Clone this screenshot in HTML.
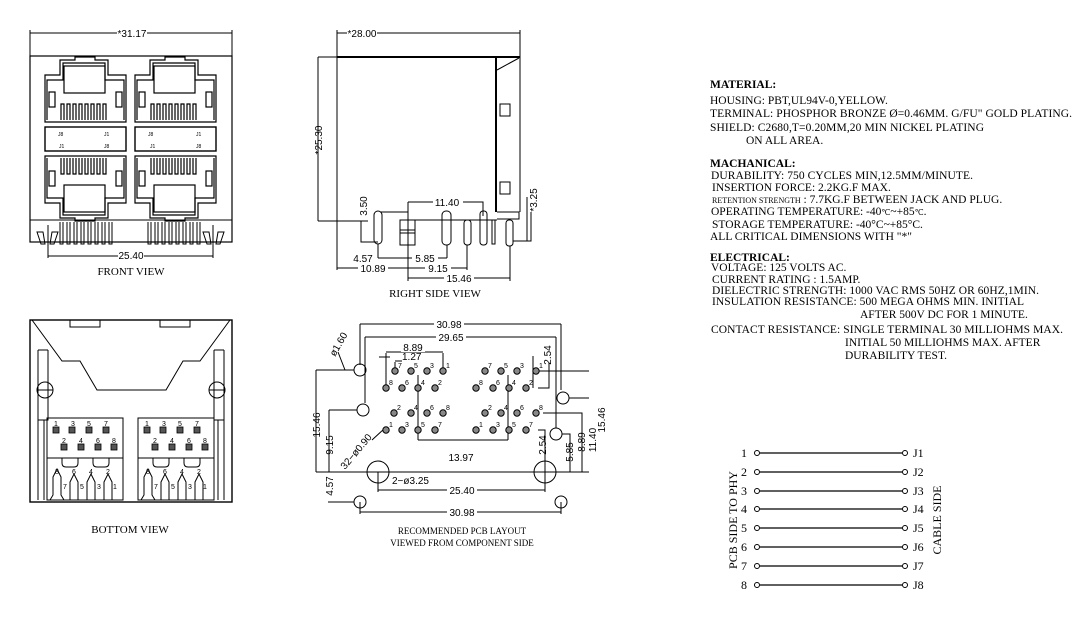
<!DOCTYPE html>
<html><head><meta charset="utf-8"><style>
html,body{margin:0;padding:0;background:#fff;width:1082px;height:626px;overflow:hidden}
svg{display:block}
text{font-family:"Liberation Sans",sans-serif;fill:#000}
.s{font-family:"Liberation Serif",serif}
</style></head><body>
<svg width="1082" height="626" viewBox="0 0 1082 626" xmlns="http://www.w3.org/2000/svg">
<defs>
<g id="jack" fill="none" stroke="#000" stroke-width="1.2">
  <path d="M45,122 V75 H60 V60 H75 V57 H95 V60 H108 V75 H126 V122 Z"/>
  <path d="M47,120 V80 H63 V63 H105 V80 H124 V120"/>
  <rect x="64" y="66" width="41" height="27"/>
  <rect x="49" y="92" width="6" height="15"/>
  <rect x="116" y="92" width="6" height="15"/>
  <path d="M61,120 V104 h3 v16 M67,120 V104 h3 v16 M73,120 V104 h3 v16 M79,120 V104 h3 v16 M85,120 V104 h3 v16 M91,120 V104 h3 v16 M97,120 V104 h3 v16 M103,120 V104 h3 v16"/>
</g>
<g id="pad"><circle r="3.2" fill="#888" stroke="#000" stroke-width="1"/></g>
</defs>

<!-- FRONT VIEW -->
<g fill="none" stroke="#000" stroke-width="1">
  <line x1="30" y1="33" x2="232" y2="33"/>
  <line x1="30" y1="30" x2="30" y2="56"/><line x1="232" y1="30" x2="232" y2="56"/>
  <rect x="30" y="56" width="202" height="186" stroke-width="1.2"/>
  <rect x="45" y="127" width="81" height="24" stroke-width="1.4"/>
  <rect x="135" y="127" width="81" height="24" stroke-width="1.4"/>
  <line x1="30" y1="220" x2="232" y2="220"/>
</g>
<use href="#jack"/>
<use href="#jack" transform="translate(90,0)"/>
<use href="#jack" transform="translate(0,276) scale(1,-1) translate(0,-2)"/>
<use href="#jack" transform="translate(90,276) scale(1,-1) translate(0,-2)"/>
<g fill="none" stroke="#000" stroke-width="1">
  <path d="M60,222 v22 h3 v-22 M67,222 v22 h3 v-22 M74,222 v22 h3 v-22 M81,222 v22 h3 v-22 M88,222 v22 h3 v-22 M95,222 v22 h3 v-22 M102,222 v22 h3 v-22 M109,222 v22 h3 v-22"/>
  <path d="M148,222 v22 h3 v-22 M155,222 v22 h3 v-22 M162,222 v22 h3 v-22 M169,222 v22 h3 v-22 M176,222 v22 h3 v-22 M183,222 v22 h3 v-22 M190,222 v22 h3 v-22 M197,222 v22 h3 v-22"/>
  <path d="M37,232 l4,12 h4 l-2,-12 z M52,232 l-2,12 h4 l4,-12 z M203,232 l4,12 h4 l-2,-12 z M218,232 l-2,12 h4 l4,-12 z"/>
  <line x1="48" y1="225" x2="48" y2="258"/><line x1="213" y1="225" x2="213" y2="258"/>
  <line x1="48" y1="256" x2="213" y2="256"/>
</g>
<g font-size="5" fill="#000"><text x="58" y="136">J8</text><text x="104" y="136">J1</text><text x="148" y="136">J8</text><text x="196" y="136">J1</text>
<text x="59" y="148">J1</text><text x="104" y="148">J8</text><text x="150" y="148">J1</text><text x="196" y="148">J8</text></g>
<rect x="118" y="250" width="26" height="10" fill="#fff"/>
<text x="131" y="259" font-size="10" text-anchor="middle">25.40</text>
<rect x="117" y="28" width="30" height="10" fill="#fff"/>
<text x="132" y="37" font-size="10" text-anchor="middle">*31.17</text>
<text class="s" x="131" y="275" font-size="11" text-anchor="middle">FRONT VIEW</text>

<!-- RIGHT SIDE VIEW -->
<g fill="none" stroke="#000" stroke-width="1">
  <line x1="337" y1="33" x2="520" y2="33"/>
  <line x1="337" y1="30" x2="337" y2="57"/><line x1="520" y1="30" x2="520" y2="57"/>
  <line x1="337" y1="57" x2="520" y2="57" stroke-width="2"/>
  <line x1="337" y1="57" x2="337" y2="221"/>
  <line x1="496" y1="57" x2="496" y2="212" stroke-width="2"/>
  <line x1="520" y1="57" x2="520" y2="212"/>
  <line x1="497" y1="70" x2="519" y2="58"/>
  <rect x="500" y="104" width="10" height="12"/><rect x="500" y="182" width="10" height="12"/>
  <path d="M337,221 H368 M380,212 H408 V220 H497 M497,212 H519 V219 H497"/>
  <line x1="318" y1="57" x2="340" y2="57"/><line x1="318" y1="221" x2="340" y2="221"/>
  <line x1="318" y1="57" x2="318" y2="221"/>
  <rect x="374" y="211" width="8" height="33" rx="4"/>
  <rect x="400" y="220" width="15" height="25"/><line x1="400" y1="230" x2="415" y2="230"/><line x1="400" y1="233" x2="415" y2="233"/>
  <rect x="442" y="211" width="9" height="34" rx="4"/>
  <rect x="464" y="220" width="7" height="25" rx="3"/>
  <rect x="480" y="211" width="7" height="34" rx="3"/>
  <rect x="492" y="220" width="3" height="24"/>
  <rect x="506" y="220" width="7" height="26" rx="3"/>
  <path d="M408,202 V281 M408,202 H483 V216 M361,221 V242 H378 M378,244 V258 M447,245 V258 M467,245 V270 M510,246 V281 M337,221 V270 M531,212 V241 H513"/>
  <line x1="378" y1="258" x2="447" y2="258"/>
  <line x1="337" y1="268" x2="467" y2="268"/>
  <line x1="408" y1="278" x2="510" y2="278"/>
  <line x1="527" y1="197" x2="527" y2="241"/>
</g>
<rect x="347" y="28" width="30" height="10" fill="#fff"/>
<text x="362" y="37" font-size="10" text-anchor="middle">*28.00</text>
<g font-size="10">
<text transform="translate(322,140) rotate(-90)" text-anchor="middle">*25.30</text>
<text transform="translate(367,206) rotate(-90)" text-anchor="middle">3.50</text>
<text transform="translate(537,200) rotate(-90)" text-anchor="middle">*3.25</text>
<rect x="433" y="197" width="30" height="10" fill="#fff"/><text x="447" y="206" text-anchor="middle">11.40</text>
<rect x="350" y="253" width="26" height="10" fill="#fff"/><text x="363" y="262" text-anchor="middle">4.57</text>
<rect x="412" y="253" width="26" height="10" fill="#fff"/><text x="425" y="262" text-anchor="middle">5.85</text>
<rect x="358" y="263" width="30" height="10" fill="#fff"/><text x="373" y="272" text-anchor="middle">10.89</text>
<rect x="425" y="263" width="26" height="10" fill="#fff"/><text x="438" y="272" text-anchor="middle">9.15</text>
<rect x="444" y="273" width="30" height="10" fill="#fff"/><text x="459" y="282" text-anchor="middle">15.46</text>
</g>
<text class="s" x="435" y="297" font-size="11" text-anchor="middle">RIGHT SIDE VIEW</text>

<!-- BOTTOM VIEW -->
<g fill="none" stroke="#000" stroke-width="1">
  <rect x="30" y="320" width="202" height="182" stroke-width="1.4"/>
  <rect x="70" y="320" width="30" height="7"/><rect x="160" y="320" width="30" height="7"/>
  <path d="M32,320 L62,361 H80 L97,390 H166 L183,361 H200 L230,320"/>
  <path d="M38,350 V500 M48,350 V420 H38 M38,350 H48 M224,350 V500 M214,350 V420 H224 M224,350 H214"/>
  <circle cx="45" cy="390" r="8"/><circle cx="217" cy="390" r="8"/>
  <path d="M37,390 h16 M209,390 h16"/>
  <path d="M44,420 V500 M218,420 V500"/>
  <rect x="47" y="418" width="76" height="82"/><rect x="138" y="418" width="76" height="82"/>
  <line x1="47" y1="458" x2="123" y2="458"/><line x1="138" y1="458" x2="214" y2="458"/>
  <path d="M62,458 v5 q0,4 4,4 h8 q4,0 4,-4 v-5 M93,458 v5 q0,4 4,4 h8 q4,0 4,-4 v-5"/>
  <path d="M153,458 v5 q0,4 4,4 h8 q4,0 4,-4 v-5 M184,458 v5 q0,4 4,4 h8 q4,0 4,-4 v-5"/>
  <path d="M50,500 l3,-5 v-18 l4,-8 l4,8 v18 l3,5 M70,500 v-18 l4,-8 l4,8 v18 M87,500 v-18 l4,-8 l4,8 v18 M104,500 v-18 l4,-8 l4,8 v18"/>
  <path d="M141,500 l3,-5 v-18 l4,-8 l4,8 v18 l3,5 M161,500 v-18 l4,-8 l4,8 v18 M178,500 v-18 l4,-8 l4,8 v18 M195,500 v-18 l4,-8 l4,8 v18"/>
</g>
<g fill="#555" stroke="#000" stroke-width="0.8">
  <rect x="53" y="427" width="6" height="6"/><rect x="69" y="427" width="6" height="6"/><rect x="86" y="427" width="6" height="6"/><rect x="103" y="427" width="6" height="6"/>
  <rect x="61" y="444" width="6" height="6"/><rect x="78" y="444" width="6" height="6"/><rect x="95" y="444" width="6" height="6"/><rect x="111" y="444" width="6" height="6"/>
  <rect x="144" y="427" width="6" height="6"/><rect x="160" y="427" width="6" height="6"/><rect x="177" y="427" width="6" height="6"/><rect x="194" y="427" width="6" height="6"/>
  <rect x="152" y="444" width="6" height="6"/><rect x="169" y="444" width="6" height="6"/><rect x="186" y="444" width="6" height="6"/><rect x="202" y="444" width="6" height="6"/>
</g>
<g font-size="7">
<text x="54" y="426">1</text><text x="71" y="426">3</text><text x="87" y="426">5</text><text x="104" y="426">7</text>
<text x="62" y="443">2</text><text x="79" y="443">4</text><text x="96" y="443">6</text><text x="112" y="443">8</text>
<text x="145" y="426">1</text><text x="162" y="426">3</text><text x="178" y="426">5</text><text x="195" y="426">7</text>
<text x="153" y="443">2</text><text x="170" y="443">4</text><text x="187" y="443">6</text><text x="203" y="443">8</text>
<text x="55" y="474">8</text><text x="72" y="474">6</text><text x="89" y="474">4</text><text x="106" y="474">2</text>
<text x="63" y="489">7</text><text x="80" y="489">5</text><text x="97" y="489">3</text><text x="113" y="489">1</text>
<text x="146" y="474">8</text><text x="163" y="474">6</text><text x="180" y="474">4</text><text x="197" y="474">2</text>
<text x="154" y="489">7</text><text x="171" y="489">5</text><text x="188" y="489">3</text><text x="203" y="489">1</text>
</g>
<text class="s" x="130" y="533" font-size="11" text-anchor="middle">BOTTOM VIEW</text>

<!-- PCB LAYOUT -->
<g fill="none" stroke="#000" stroke-width="1">
  <line x1="360" y1="324" x2="561" y2="324"/>
  <line x1="365" y1="337" x2="556" y2="337"/>
  <line x1="360" y1="324" x2="360" y2="365"/><line x1="561" y1="324" x2="561" y2="390"/>
  <line x1="365" y1="337" x2="365" y2="403"/><line x1="556" y1="337" x2="556" y2="428"/>
  <circle cx="360" cy="370" r="6"/><circle cx="363" cy="410" r="6"/>
  <circle cx="563" cy="398" r="6"/><circle cx="556" cy="434" r="6"/>
  <circle cx="378" cy="472" r="11"/><circle cx="545" cy="472" r="11"/>
  <circle cx="360" cy="502" r="6"/><circle cx="561" cy="502" r="6"/>
  <path d="M354,370 h-38 M357,410 h-28 M329,410 V472 M316,370 V472 M316,472 H589 M378,472 V492 M545,472 V492 M378,490 H545 M360,502 V514 M561,502 V514 M360,512 H561 M328,502 H354"/>
  <path d="M386,353 V388 M443,353 V370 M386,352 H443 M379,357 H390 M395,362 V371 M395,361 H402 M533,356 V388 M539,371 H589 M569,398 H589 M543,413 H582 V472 M562,434 H570 V472 M538,430 H545 V472 M549,363 V388 H538 M418,375 V440 M508,375 V440 M418,440 H508"/>
  <path d="M345,370 L338,352 M384,429 L372,440"/>
</g>
<g>
<use href="#pad" x="395" y="371"/><use href="#pad" x="411" y="371"/><use href="#pad" x="427" y="371"/><use href="#pad" x="443" y="371"/>
<use href="#pad" x="386" y="388"/><use href="#pad" x="402" y="388"/><use href="#pad" x="418" y="388"/><use href="#pad" x="435" y="388"/>
<use href="#pad" x="394" y="413"/><use href="#pad" x="411" y="413"/><use href="#pad" x="427" y="413"/><use href="#pad" x="443" y="413"/>
<use href="#pad" x="386" y="430"/><use href="#pad" x="402" y="430"/><use href="#pad" x="418" y="430"/><use href="#pad" x="435" y="430"/>
<use href="#pad" x="485" y="371"/><use href="#pad" x="501" y="371"/><use href="#pad" x="517" y="371"/><use href="#pad" x="536" y="371"/>
<use href="#pad" x="476" y="388"/><use href="#pad" x="493" y="388"/><use href="#pad" x="509" y="388"/><use href="#pad" x="526" y="388"/>
<use href="#pad" x="485" y="413"/><use href="#pad" x="501" y="413"/><use href="#pad" x="517" y="413"/><use href="#pad" x="536" y="413"/>
<use href="#pad" x="476" y="430"/><use href="#pad" x="493" y="430"/><use href="#pad" x="509" y="430"/><use href="#pad" x="526" y="430"/>
</g>
<g font-size="7">
<text x="398" y="368">7</text><text x="414" y="368">5</text><text x="430" y="368">3</text><text x="446" y="368">1</text>
<text x="389" y="385">8</text><text x="405" y="385">6</text><text x="421" y="385">4</text><text x="438" y="385">2</text>
<text x="397" y="410">2</text><text x="414" y="410">4</text><text x="430" y="410">6</text><text x="446" y="410">8</text>
<text x="389" y="427">1</text><text x="405" y="427">3</text><text x="421" y="427">5</text><text x="438" y="427">7</text>
<text x="488" y="368">7</text><text x="504" y="368">5</text><text x="520" y="368">3</text><text x="539" y="368">1</text>
<text x="479" y="385">8</text><text x="496" y="385">6</text><text x="512" y="385">4</text><text x="529" y="385">2</text>
<text x="488" y="410">2</text><text x="504" y="410">4</text><text x="520" y="410">6</text><text x="539" y="410">8</text>
<text x="479" y="427">1</text><text x="496" y="427">3</text><text x="512" y="427">5</text><text x="529" y="427">7</text>
</g>
<g font-size="10">
<rect x="434" y="319" width="30" height="10" fill="#fff"/><text x="449" y="328" text-anchor="middle">30.98</text>
<rect x="436" y="332" width="30" height="10" fill="#fff"/><text x="451" y="341" text-anchor="middle">29.65</text>
<rect x="401" y="342" width="24" height="10" fill="#fff"/><text x="413" y="351" text-anchor="middle">8.89</text>
<text x="402" y="360">1.27</text>
<rect x="446" y="452" width="30" height="10" fill="#fff"/><text x="461" y="461" text-anchor="middle">13.97</text>
<rect x="447" y="485" width="30" height="10" fill="#fff"/><text x="462" y="494" text-anchor="middle">25.40</text>
<rect x="447" y="507" width="30" height="10" fill="#fff"/><text x="462" y="516" text-anchor="middle">30.98</text>
<text x="392" y="484">2−ø3.25</text>
<text transform="translate(335,357) rotate(-60)">ø1.60</text>
<text transform="translate(345,470) rotate(-50)">32−ø0.90</text>
<text transform="translate(320,425) rotate(-90)" text-anchor="middle">15.46</text>
<text transform="translate(333,445) rotate(-90)" text-anchor="middle">9.15</text>
<text transform="translate(333,486) rotate(-90)" text-anchor="middle">4.57</text>
<text transform="translate(551,355) rotate(-90)" text-anchor="middle">2.54</text>
<text transform="translate(546,445) rotate(-90)" text-anchor="middle">2.54</text>
<text transform="translate(573,452) rotate(-90)" text-anchor="middle">5.85</text>
<text transform="translate(585,442) rotate(-90)" text-anchor="middle">8.89</text>
<text transform="translate(596,440) rotate(-90)" text-anchor="middle">11.40</text>
<text transform="translate(605,420) rotate(-90)" text-anchor="middle">15.46</text>
</g>
<g class="s" font-size="9" text-anchor="middle"><text class="s" x="462" y="534">RECOMMENDED PCB LAYOUT</text><text class="s" x="462" y="546">VIEWED FROM COMPONENT SIDE</text></g>

<!-- TEXT -->
<g font-size="11.5">
<text class="s" x="710" y="88" font-weight="bold">MATERIAL:</text>
<text class="s" x="710" y="104">HOUSING: PBT,UL94V-0,YELLOW.</text>
<text class="s" x="710" y="117" textLength="362">TERMINAL: PHOSPHOR BRONZE Ø=0.46MM. G/FU" GOLD PLATING.</text>
<text class="s" x="710" y="131" textLength="274">SHIELD: C2680,T=0.20MM,20 MIN NICKEL PLATING</text>
<text class="s" x="746" y="144">ON ALL AREA.</text>
<text class="s" x="710" y="167" font-weight="bold">MACHANICAL:</text>
<text class="s" x="711" y="179" textLength="262">DURABILITY: 750 CYCLES MIN,12.5MM/MINUTE.</text>
<text class="s" x="712" y="191">INSERTION FORCE: 2.2KG.F MAX.</text>
<text class="s" x="712" y="203"><tspan font-size="8">RETENTION STRENGTH</tspan> : 7.7KG.F BETWEEN JACK AND PLUG.</text>
<text class="s" x="711" y="215">OPERATING TEMPERATURE: -40<tspan font-size="8">℃</tspan>~+85<tspan font-size="8">℃</tspan>.</text>
<text class="s" x="712" y="228">STORAGE TEMPERATURE: -40°C~+85°C.</text>
<text class="s" x="710" y="240">ALL CRITICAL DIMENSIONS WITH "*"</text>
<text class="s" x="710" y="261" font-weight="bold">ELECTRICAL:</text>
<text class="s" x="711" y="271">VOLTAGE: 125 VOLTS AC.</text>
<text class="s" x="712" y="283">CURRENT RATING : 1.5AMP.</text>
<text class="s" x="712" y="294" textLength="327">DIELECTRIC STRENGTH: 1000 VAC RMS 50HZ OR 60HZ,1MIN.</text>
<text class="s" x="712" y="305" textLength="312">INSULATION RESISTANCE: 500 MEGA OHMS MIN. INITIAL</text>
<text class="s" x="860" y="318">AFTER 500V DC FOR 1 MINUTE.</text>
<text class="s" x="711" y="333" textLength="352">CONTACT RESISTANCE: SINGLE TERMINAL 30 MILLIOHMS MAX.</text>
<text class="s" x="845" y="346">INITIAL 50 MILLIOHMS MAX. AFTER</text>
<text class="s" x="845" y="359">DURABILITY TEST.</text>
</g>

<!-- SCHEMATIC -->
<g stroke="#000" stroke-width="1.3" fill="#fff">
<line x1="760" y1="453" x2="902" y2="453"/><line x1="760" y1="472" x2="902" y2="472"/>
<line x1="760" y1="491" x2="902" y2="491"/><line x1="760" y1="509" x2="902" y2="509"/>
<line x1="760" y1="528" x2="902" y2="528"/><line x1="760" y1="547" x2="902" y2="547"/>
<line x1="760" y1="566" x2="902" y2="566"/><line x1="760" y1="585" x2="902" y2="585"/>
<g stroke-width="1"><circle cx="757" cy="453" r="2.5"/><circle cx="757" cy="472" r="2.5"/><circle cx="757" cy="491" r="2.5"/><circle cx="757" cy="509" r="2.5"/><circle cx="757" cy="528" r="2.5"/><circle cx="757" cy="547" r="2.5"/><circle cx="757" cy="566" r="2.5"/><circle cx="757" cy="585" r="2.5"/>
<circle cx="905" cy="453" r="2.5"/><circle cx="905" cy="472" r="2.5"/><circle cx="905" cy="491" r="2.5"/><circle cx="905" cy="509" r="2.5"/><circle cx="905" cy="528" r="2.5"/><circle cx="905" cy="547" r="2.5"/><circle cx="905" cy="566" r="2.5"/><circle cx="905" cy="585" r="2.5"/></g>
</g>
<g font-size="12">
<text class="s" x="741" y="457">1</text><text class="s" x="741" y="476">2</text><text class="s" x="741" y="495">3</text><text class="s" x="741" y="513">4</text><text class="s" x="741" y="532">5</text><text class="s" x="741" y="551">6</text><text class="s" x="741" y="570">7</text><text class="s" x="741" y="589">8</text>
<text class="s" x="913" y="457">J1</text><text class="s" x="913" y="476">J2</text><text class="s" x="913" y="495">J3</text><text class="s" x="913" y="513">J4</text><text class="s" x="913" y="532">J5</text><text class="s" x="913" y="551">J6</text><text class="s" x="913" y="570">J7</text><text class="s" x="913" y="589">J8</text>
<text class="s" transform="translate(737,520) rotate(-90)" text-anchor="middle">PCB SIDE TO PHY</text>
<text class="s" transform="translate(941,520) rotate(-90)" text-anchor="middle">CABLE SIDE</text>
</g>
</svg>
</body></html>
